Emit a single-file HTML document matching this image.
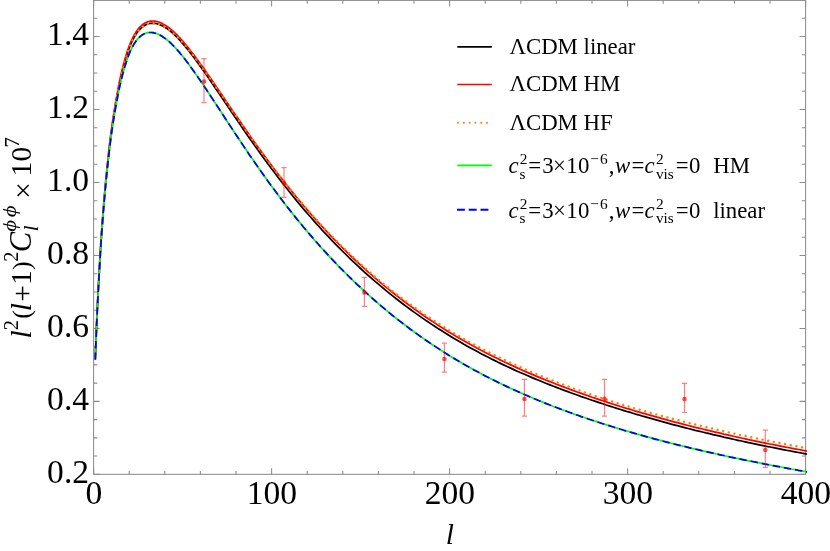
<!DOCTYPE html>
<html><head><meta charset="utf-8"><title>plot</title>
<style>
html,body{margin:0;padding:0;background:#fff;}
svg{display:block;will-change:transform;}
text{font-family:"Liberation Serif",serif;fill:#000;}
.it{font-style:italic;}
</style></head><body>
<svg width="830" height="551" viewBox="0 0 830 551">
<rect x="0" y="0" width="830" height="551" fill="#fff"/>
<defs><clipPath id="cp"><rect x="92.6" y="0" width="714.4" height="474.83"/></clipPath></defs>
<g stroke="#8c8c8c" stroke-width="1.05" fill="none">
<rect x="93.6" y="0.4" width="712.0" height="473.93"/>
<path d="M93.60,474.33v-6.0M93.60,0.4v6.0M129.20,474.33v-3.3M129.20,0.4v3.3M164.80,474.33v-3.3M164.80,0.4v3.3M200.40,474.33v-3.3M200.40,0.4v3.3M236.00,474.33v-3.3M236.00,0.4v3.3M271.60,474.33v-6.0M271.60,0.4v6.0M307.20,474.33v-3.3M307.20,0.4v3.3M342.80,474.33v-3.3M342.80,0.4v3.3M378.40,474.33v-3.3M378.40,0.4v3.3M414.00,474.33v-3.3M414.00,0.4v3.3M449.60,474.33v-6.0M449.60,0.4v6.0M485.20,474.33v-3.3M485.20,0.4v3.3M520.80,474.33v-3.3M520.80,0.4v3.3M556.40,474.33v-3.3M556.40,0.4v3.3M592.00,474.33v-3.3M592.00,0.4v3.3M627.60,474.33v-6.0M627.60,0.4v6.0M663.20,474.33v-3.3M663.20,0.4v3.3M698.80,474.33v-3.3M698.80,0.4v3.3M734.40,474.33v-3.3M734.40,0.4v3.3M770.00,474.33v-3.3M770.00,0.4v3.3M805.60,474.33v-6.0M805.60,0.4v6.0M93.6,474.33h6.0M805.6,474.33h-6.0M93.6,456.09h3.7M805.6,456.09h-3.7M93.6,437.85h3.7M805.6,437.85h-3.7M93.6,419.61h3.7M805.6,419.61h-3.7M93.6,401.37h6.0M805.6,401.37h-6.0M93.6,383.13h3.7M805.6,383.13h-3.7M93.6,364.89h3.7M805.6,364.89h-3.7M93.6,346.65h3.7M805.6,346.65h-3.7M93.6,328.41h6.0M805.6,328.41h-6.0M93.6,310.17h3.7M805.6,310.17h-3.7M93.6,291.93h3.7M805.6,291.93h-3.7M93.6,273.69h3.7M805.6,273.69h-3.7M93.6,255.45h6.0M805.6,255.45h-6.0M93.6,237.21h3.7M805.6,237.21h-3.7M93.6,218.97h3.7M805.6,218.97h-3.7M93.6,200.73h3.7M805.6,200.73h-3.7M93.6,182.49h6.0M805.6,182.49h-6.0M93.6,164.25h3.7M805.6,164.25h-3.7M93.6,146.01h3.7M805.6,146.01h-3.7M93.6,127.77h3.7M805.6,127.77h-3.7M93.6,109.53h6.0M805.6,109.53h-6.0M93.6,91.29h3.7M805.6,91.29h-3.7M93.6,73.05h3.7M805.6,73.05h-3.7M93.6,54.81h3.7M805.6,54.81h-3.7M93.6,36.57h6.0M805.6,36.57h-6.0M93.6,18.33h3.7M805.6,18.33h-3.7"/>
</g>
<g clip-path="url(#cp)" fill="none" stroke-linejoin="round">
<path d="M95.3,358.8 L96.2,335.2 L97.1,314.1 L98.0,295.2 L98.9,278.2 L99.8,262.6 L100.6,248.3 L101.5,235.0 L102.4,222.6 L103.3,210.9 L104.2,200.0 L105.1,189.7 L106.0,180.0 L106.9,171.0 L107.8,162.4 L108.7,154.3 L109.5,146.7 L110.4,139.5 L111.3,132.7 L112.2,126.2 L113.1,120.0 L114.0,114.2 L114.9,108.6 L115.8,103.4 L116.7,98.3 L117.6,93.5 L118.4,88.9 L119.3,84.5 L120.2,80.3 L121.1,76.3 L122.0,72.5 L122.9,68.9 L123.8,65.5 L124.7,62.2 L125.6,59.1 L126.5,56.2 L127.3,53.4 L128.2,50.8 L129.1,48.4 L130.0,46.1 L130.9,43.9 L131.8,41.9 L132.7,40.1 L133.6,38.3 L134.5,36.7 L135.4,35.2 L136.2,33.8 L137.1,32.5 L138.0,31.4 L138.9,30.3 L139.8,29.3 L140.7,28.4 L141.6,27.6 L142.5,26.9 L143.4,26.2 L144.3,25.6 L145.1,25.1 L146.0,24.7 L146.9,24.3 L147.8,24.0 L148.7,23.7 L149.6,23.5 L150.5,23.4 L151.4,23.3 L152.3,23.2 L153.2,23.3 L154.0,23.3 L154.9,23.4 L155.8,23.5 L156.7,23.7 L157.6,24.0 L158.5,24.2 L159.4,24.5 L160.3,24.9 L161.2,25.3 L162.1,25.7 L162.9,26.1 L163.8,26.6 L164.7,27.2 L165.6,27.7 L166.5,28.3 L167.4,28.9 L168.3,29.6 L169.2,30.2 L170.1,30.9 L171.0,31.7 L171.8,32.4 L172.7,33.2 L173.6,34.0 L174.5,34.9 L175.4,35.7 L176.3,36.6 L177.2,37.5 L178.1,38.4 L179.0,39.4 L179.9,40.3 L180.7,41.3 L181.6,42.3 L182.5,43.3 L183.4,44.4 L184.3,45.4 L185.2,46.5 L186.1,47.6 L187.0,48.7 L187.9,49.8 L188.8,50.9 L189.6,52.0 L190.5,53.2 L191.4,54.3 L192.3,55.5 L193.2,56.7 L194.1,57.8 L195.0,59.0 L195.9,60.2 L196.8,61.4 L197.7,62.7 L198.5,63.9 L199.4,65.1 L200.3,66.4 L200.4,66.5 L204.0,71.5 L207.5,76.6 L211.1,81.8 L214.6,87.0 L218.2,92.2 L221.8,97.5 L225.3,102.8 L228.9,108.1 L232.4,113.4 L236.0,118.6 L239.6,123.8 L243.1,129.0 L246.7,134.2 L250.2,139.3 L253.8,144.3 L257.4,149.3 L260.9,154.3 L264.5,159.2 L268.0,164.0 L271.6,168.8 L275.2,173.5 L278.7,178.2 L282.3,182.8 L285.8,187.3 L289.4,191.8 L293.0,196.2 L296.5,200.6 L300.1,204.9 L303.6,209.1 L307.2,213.2 L310.8,217.3 L314.3,221.4 L317.9,225.3 L321.4,229.3 L325.0,233.1 L328.6,236.9 L332.1,240.6 L335.7,244.3 L339.2,247.9 L342.8,251.5 L346.4,255.0 L349.9,258.5 L353.5,261.9 L357.0,265.2 L360.6,268.5 L364.2,271.8 L367.7,275.0 L371.3,278.1 L374.8,281.2 L378.4,284.2 L382.0,287.2 L385.5,290.2 L389.1,293.1 L392.6,295.9 L396.2,298.7 L399.8,301.5 L403.3,304.2 L406.9,306.9 L410.4,309.5 L414.0,312.1 L417.6,314.6 L421.1,317.1 L424.7,319.6 L428.2,322.0 L431.8,324.4 L435.4,326.7 L438.9,329.1 L442.5,331.3 L446.0,333.5 L449.6,335.7 L453.2,337.9 L456.7,340.0 L460.3,342.1 L463.8,344.2 L467.4,346.2 L471.0,348.2 L474.5,350.1 L478.1,352.0 L481.6,353.9 L485.2,355.8 L488.8,357.6 L492.3,359.4 L495.9,361.1 L499.4,362.9 L503.0,364.6 L506.6,366.3 L510.1,367.9 L513.7,369.6 L517.2,371.2 L520.8,372.8 L524.4,374.3 L527.9,375.8 L531.5,377.4 L535.0,378.9 L538.6,380.3 L542.2,381.8 L545.7,383.2 L549.3,384.6 L552.8,386.0 L556.4,387.4 L560.0,388.8 L563.5,390.1 L567.1,391.4 L570.6,392.7 L574.2,394.0 L577.8,395.3 L581.3,396.6 L584.9,397.8 L588.4,399.0 L592.0,400.2 L595.6,401.4 L599.1,402.6 L602.7,403.8 L606.2,405.0 L609.8,406.1 L613.4,407.2 L616.9,408.4 L620.5,409.5 L624.0,410.6 L627.6,411.7 L631.2,412.7 L634.7,413.8 L638.3,414.8 L641.8,415.9 L645.4,416.9 L649.0,417.9 L652.5,418.9 L656.1,419.9 L659.6,420.9 L663.2,421.9 L666.8,422.9 L670.3,423.8 L673.9,424.8 L677.4,425.7 L681.0,426.6 L684.6,427.6 L688.1,428.5 L691.7,429.4 L695.2,430.3 L698.8,431.1 L702.4,432.0 L705.9,432.9 L709.5,433.7 L713.0,434.6 L716.6,435.4 L720.2,436.2 L723.7,437.1 L727.3,437.9 L730.8,438.7 L734.4,439.5 L738.0,440.3 L741.5,441.0 L745.1,441.8 L748.6,442.6 L752.2,443.3 L755.8,444.1 L759.3,444.8 L762.9,445.6 L766.4,446.3 L770.0,447.0 L773.6,447.7 L777.1,448.4 L780.7,449.1 L784.2,449.8 L787.8,450.5 L791.4,451.2 L794.9,451.8 L798.5,452.5 L802.0,453.2 L805.6,453.8 L807.0,454.1" stroke="#000" stroke-width="1.72"/>
<path d="M95.3,356.7 L96.2,333.1 L97.1,312.0 L98.0,293.1 L98.9,276.1 L99.8,260.5 L100.6,246.2 L101.5,232.9 L102.4,220.5 L103.3,208.8 L104.2,197.9 L105.1,187.6 L106.0,177.9 L106.9,168.8 L107.8,160.3 L108.7,152.2 L109.5,144.6 L110.4,137.4 L111.3,130.5 L112.2,124.1 L113.1,117.9 L114.0,112.1 L114.9,106.5 L115.8,101.2 L116.7,96.2 L117.6,91.4 L118.4,86.8 L119.3,82.4 L120.2,78.2 L121.1,74.2 L122.0,70.4 L122.9,66.8 L123.8,63.3 L124.7,60.1 L125.6,57.0 L126.5,54.0 L127.3,51.3 L128.2,48.7 L129.1,46.2 L130.0,43.9 L130.9,41.8 L131.8,39.8 L132.7,37.9 L133.6,36.2 L134.5,34.5 L135.4,33.1 L136.2,31.7 L137.1,30.4 L138.0,29.2 L138.9,28.1 L139.8,27.1 L140.7,26.3 L141.6,25.4 L142.5,24.7 L143.4,24.0 L144.3,23.5 L145.1,23.0 L146.0,22.5 L146.9,22.1 L147.8,21.8 L148.7,21.5 L149.6,21.3 L150.5,21.2 L151.4,21.1 L152.3,21.0 L153.2,21.0 L154.0,21.1 L154.9,21.2 L155.8,21.3 L156.7,21.5 L157.6,21.7 L158.5,22.0 L159.4,22.3 L160.3,22.6 L161.2,23.0 L162.1,23.4 L162.9,23.9 L163.8,24.4 L164.7,24.9 L165.6,25.4 L166.5,26.0 L167.4,26.6 L168.3,27.3 L169.2,27.9 L170.1,28.6 L171.0,29.4 L171.8,30.1 L172.7,30.9 L173.6,31.7 L174.5,32.5 L175.4,33.4 L176.3,34.2 L177.2,35.1 L178.1,36.0 L179.0,37.0 L179.9,37.9 L180.7,38.9 L181.6,39.9 L182.5,40.9 L183.4,41.9 L184.3,43.0 L185.2,44.0 L186.1,45.1 L187.0,46.2 L187.9,47.3 L188.8,48.4 L189.6,49.5 L190.5,50.7 L191.4,51.8 L192.3,53.0 L193.2,54.1 L194.1,55.3 L195.0,56.5 L195.9,57.7 L196.8,58.9 L197.7,60.1 L198.5,61.3 L199.4,62.5 L200.3,63.8 L200.4,63.9 L204.0,68.8 L207.5,73.9 L211.1,79.0 L214.6,84.2 L218.2,89.4 L221.8,94.7 L225.3,99.9 L228.9,105.2 L232.4,110.4 L236.0,115.6 L239.6,120.8 L243.1,126.0 L246.7,131.1 L250.2,136.2 L253.8,141.2 L257.4,146.2 L260.9,151.1 L264.5,156.0 L268.0,160.8 L271.6,165.6 L275.2,170.3 L278.7,174.9 L282.3,179.5 L285.8,184.1 L289.4,188.5 L293.0,192.9 L296.5,197.2 L300.1,201.5 L303.6,205.7 L307.2,209.9 L310.8,214.0 L314.3,218.0 L317.9,222.0 L321.4,225.9 L325.0,229.7 L328.6,233.5 L332.1,237.3 L335.7,240.9 L339.2,244.5 L342.8,248.1 L346.4,251.6 L349.9,255.1 L353.5,258.5 L357.0,261.8 L360.6,265.1 L364.2,268.4 L367.7,271.6 L371.3,274.7 L374.8,277.8 L378.4,280.8 L382.0,283.8 L385.5,286.8 L389.1,289.7 L392.6,292.5 L396.2,295.3 L399.8,298.1 L403.3,300.8 L406.9,303.5 L410.4,306.1 L414.0,308.7 L417.6,311.3 L421.1,313.8 L424.7,316.2 L428.2,318.7 L431.8,321.0 L435.4,323.4 L438.9,325.7 L442.5,328.0 L446.0,330.2 L449.6,332.4 L453.2,334.6 L456.7,336.7 L460.3,338.8 L463.8,340.8 L467.4,342.8 L471.0,344.8 L474.5,346.8 L478.1,348.7 L481.6,350.6 L485.2,352.4 L488.8,354.3 L492.3,356.1 L495.9,357.8 L499.4,359.6 L503.0,361.3 L506.6,363.0 L510.1,364.6 L513.7,366.3 L517.2,367.9 L520.8,369.5 L524.4,371.1 L527.9,372.6 L531.5,374.1 L535.0,375.6 L538.6,377.1 L542.2,378.6 L545.7,380.0 L549.3,381.4 L552.8,382.8 L556.4,384.2 L560.0,385.6 L563.5,386.9 L567.1,388.3 L570.6,389.6 L574.2,390.9 L577.8,392.2 L581.3,393.4 L584.9,394.7 L588.4,395.9 L592.0,397.2 L595.6,398.4 L599.1,399.6 L602.7,400.8 L606.2,401.9 L609.8,403.1 L613.4,404.2 L616.9,405.4 L620.5,406.5 L624.0,407.6 L627.6,408.7 L631.2,409.7 L634.7,410.8 L638.3,411.8 L641.8,412.9 L645.4,413.9 L649.0,414.9 L652.5,415.9 L656.1,416.9 L659.6,417.9 L663.2,418.9 L666.8,419.9 L670.3,420.8 L673.9,421.8 L677.4,422.7 L681.0,423.6 L684.6,424.6 L688.1,425.5 L691.7,426.4 L695.2,427.3 L698.8,428.1 L702.4,429.0 L705.9,429.9 L709.5,430.7 L713.0,431.6 L716.6,432.4 L720.2,433.2 L723.7,434.1 L727.3,434.9 L730.8,435.7 L734.4,436.5 L738.0,437.3 L741.5,438.0 L745.1,438.8 L748.6,439.6 L752.2,440.3 L755.8,441.1 L759.3,441.8 L762.9,442.6 L766.4,443.3 L770.0,444.0 L773.6,444.7 L777.1,445.4 L780.7,446.1 L784.2,446.8 L787.8,447.5 L791.4,448.2 L794.9,448.8 L798.5,449.5 L802.0,450.2 L805.6,450.8 L807.0,451.1" stroke="#ff0000" stroke-width="1.72"/>
<path d="M95.3,358.9 L96.2,335.3 L97.1,314.2 L98.0,295.3 L98.9,278.3 L99.8,262.7 L100.6,248.4 L101.5,235.1 L102.4,222.7 L103.3,211.0 L104.2,200.1 L105.1,189.8 L106.0,180.1 L106.9,171.0 L107.8,162.5 L108.7,154.4 L109.5,146.8 L110.4,139.6 L111.3,132.7 L112.2,126.3 L113.1,120.1 L114.0,114.3 L114.9,108.7 L115.8,103.4 L116.7,98.4 L117.6,93.6 L118.4,89.0 L119.3,84.6 L120.2,80.4 L121.1,76.4 L122.0,72.6 L122.9,69.0 L123.8,65.5 L124.7,62.3 L125.6,59.2 L126.5,56.2 L127.3,53.5 L128.2,50.9 L129.1,48.4 L130.0,46.1 L130.9,44.0 L131.8,42.0 L132.7,40.1 L133.6,38.4 L134.5,36.7 L135.4,35.3 L136.2,33.9 L137.1,32.6 L138.0,31.4 L138.9,30.3 L139.8,29.3 L140.7,28.5 L141.6,27.6 L142.5,26.9 L143.4,26.2 L144.3,25.7 L145.1,25.2 L146.0,24.7 L146.9,24.3 L147.8,24.0 L148.7,23.7 L149.6,23.5 L150.5,23.4 L151.4,23.3 L152.3,23.2 L153.2,23.2 L154.0,23.3 L154.9,23.4 L155.8,23.5 L156.7,23.7 L157.6,23.9 L158.5,24.2 L159.4,24.5 L160.3,24.8 L161.2,25.2 L162.1,25.6 L162.9,26.0 L163.8,26.5 L164.7,27.0 L165.6,27.5 L166.5,28.1 L167.4,28.7 L168.3,29.3 L169.2,29.9 L170.1,30.6 L171.0,31.3 L171.8,32.0 L172.7,32.8 L173.6,33.6 L174.5,34.4 L175.4,35.2 L176.3,36.0 L177.2,36.9 L178.1,37.8 L179.0,38.7 L179.9,39.6 L180.7,40.6 L181.6,41.6 L182.5,42.5 L183.4,43.5 L184.3,44.6 L185.2,45.6 L186.1,46.6 L187.0,47.7 L187.9,48.8 L188.8,49.9 L189.6,51.0 L190.5,52.1 L191.4,53.2 L192.3,54.3 L193.2,55.5 L194.1,56.6 L195.0,57.8 L195.9,59.0 L196.8,60.1 L197.7,61.3 L198.5,62.5 L199.4,63.7 L200.3,65.0 L200.4,65.1 L204.0,70.0 L207.5,75.0 L211.1,80.1 L214.6,85.2 L218.2,90.3 L221.8,95.5 L225.3,100.7 L228.9,105.9 L232.4,111.1 L236.0,116.2 L239.6,121.4 L243.1,126.5 L246.7,131.5 L250.2,136.5 L253.8,141.5 L257.4,146.5 L260.9,151.3 L264.5,156.2 L268.0,160.9 L271.6,165.7 L275.2,170.3 L278.7,174.9 L282.3,179.4 L285.8,183.9 L289.4,188.3 L293.0,192.6 L296.5,196.9 L300.1,201.1 L303.6,205.3 L307.2,209.4 L310.8,213.4 L314.3,217.4 L317.9,221.3 L321.4,225.2 L325.0,229.0 L328.6,232.7 L332.1,236.4 L335.7,240.1 L339.2,243.6 L342.8,247.2 L346.4,250.6 L349.9,254.1 L353.5,257.4 L357.0,260.7 L360.6,264.0 L364.2,267.2 L367.7,270.4 L371.3,273.5 L374.8,276.6 L378.4,279.6 L382.0,282.5 L385.5,285.4 L389.1,288.3 L392.6,291.1 L396.2,293.9 L399.8,296.6 L403.3,299.3 L406.9,301.9 L410.4,304.5 L414.0,307.0 L417.6,309.5 L421.1,312.0 L424.7,314.4 L428.2,316.8 L431.8,319.1 L435.4,321.5 L438.9,323.8 L442.5,326.0 L446.0,328.2 L449.6,330.4 L453.2,332.6 L456.7,334.7 L460.3,336.8 L463.8,338.8 L467.4,340.8 L471.0,342.8 L474.5,344.7 L478.1,346.6 L481.6,348.5 L485.2,350.4 L488.8,352.2 L492.3,354.0 L495.9,355.8 L499.4,357.5 L503.0,359.2 L506.6,360.9 L510.1,362.5 L513.7,364.2 L517.2,365.8 L520.8,367.4 L524.4,368.9 L527.9,370.5 L531.5,372.0 L535.0,373.5 L538.6,374.9 L542.2,376.4 L545.7,377.8 L549.3,379.2 L552.8,380.6 L556.4,382.0 L560.0,383.4 L563.5,384.7 L567.1,386.0 L570.6,387.3 L574.2,388.6 L577.8,389.9 L581.3,391.1 L584.9,392.4 L588.4,393.6 L592.0,394.8 L595.6,396.0 L599.1,397.2 L602.7,398.4 L606.2,399.5 L609.8,400.7 L613.4,401.8 L616.9,402.9 L620.5,404.0 L624.0,405.1 L627.6,406.2 L631.2,407.2 L634.7,408.3 L638.3,409.3 L641.8,410.3 L645.4,411.3 L649.0,412.3 L652.5,413.3 L656.1,414.3 L659.6,415.3 L663.2,416.2 L666.8,417.2 L670.3,418.1 L673.9,419.1 L677.4,420.0 L681.0,420.9 L684.6,421.8 L688.1,422.7 L691.7,423.6 L695.2,424.5 L698.8,425.3 L702.4,426.2 L705.9,427.1 L709.5,427.9 L713.0,428.7 L716.6,429.6 L720.2,430.4 L723.7,431.2 L727.3,432.0 L730.8,432.8 L734.4,433.6 L738.0,434.4 L741.5,435.2 L745.1,435.9 L748.6,436.7 L752.2,437.5 L755.8,438.2 L759.3,438.9 L762.9,439.7 L766.4,440.4 L770.0,441.1 L773.6,441.8 L777.1,442.5 L780.7,443.2 L784.2,443.9 L787.8,444.6 L791.4,445.3 L794.9,446.0 L798.5,446.6 L802.0,447.3 L805.6,447.9 L807.0,448.2" stroke="#ff8000" stroke-width="2.4" stroke-dasharray="0.01 5.74" stroke-linecap="round"/>
<path d="M95.3,358.9 L96.2,335.4 L97.1,314.4 L98.0,295.6 L98.9,278.7 L99.8,263.2 L100.6,249.0 L101.5,235.8 L102.4,223.6 L103.3,212.0 L104.2,201.2 L105.1,191.1 L106.0,181.6 L106.9,172.6 L107.8,164.2 L108.7,156.3 L109.5,148.8 L110.4,141.8 L111.3,135.1 L112.2,128.8 L113.1,122.8 L114.0,117.1 L114.9,111.7 L115.8,106.6 L116.7,101.7 L117.6,97.1 L118.4,92.7 L119.3,88.4 L120.2,84.4 L121.1,80.6 L122.0,76.9 L122.9,73.5 L123.8,70.2 L124.7,67.1 L125.6,64.2 L126.5,61.4 L127.3,58.8 L128.2,56.4 L129.1,54.1 L130.0,51.9 L130.9,49.9 L131.8,48.1 L132.7,46.4 L133.6,44.8 L134.5,43.3 L135.4,42.0 L136.2,40.7 L137.1,39.6 L138.0,38.6 L138.9,37.6 L139.8,36.8 L140.7,36.1 L141.6,35.4 L142.5,34.8 L143.4,34.3 L144.3,33.8 L145.1,33.5 L146.0,33.1 L146.9,32.9 L147.8,32.7 L148.7,32.6 L149.6,32.5 L150.5,32.5 L151.4,32.5 L152.3,32.6 L153.2,32.7 L154.0,32.9 L154.9,33.1 L155.8,33.4 L156.7,33.7 L157.6,34.0 L158.5,34.4 L159.4,34.8 L160.3,35.3 L161.2,35.8 L162.1,36.3 L162.9,36.9 L163.8,37.5 L164.7,38.1 L165.6,38.8 L166.5,39.5 L167.4,40.2 L168.3,40.9 L169.2,41.7 L170.1,42.5 L171.0,43.3 L171.8,44.2 L172.7,45.1 L173.6,46.0 L174.5,46.9 L175.4,47.8 L176.3,48.8 L177.2,49.8 L178.1,50.8 L179.0,51.8 L179.9,52.9 L180.7,54.0 L181.6,55.0 L182.5,56.1 L183.4,57.3 L184.3,58.4 L185.2,59.5 L186.1,60.7 L187.0,61.9 L187.9,63.0 L188.8,64.2 L189.6,65.4 L190.5,66.7 L191.4,67.9 L192.3,69.1 L193.2,70.4 L194.1,71.6 L195.0,72.9 L195.9,74.2 L196.8,75.4 L197.7,76.7 L198.5,78.0 L199.4,79.3 L200.3,80.6 L200.4,80.7 L204.0,86.0 L207.5,91.3 L211.1,96.7 L214.6,102.1 L218.2,107.5 L221.8,113.0 L225.3,118.5 L228.9,123.9 L232.4,129.3 L236.0,134.8 L239.6,140.1 L243.1,145.4 L246.7,150.7 L250.2,156.0 L253.8,161.1 L257.4,166.3 L260.9,171.3 L264.5,176.3 L268.0,181.3 L271.6,186.2 L275.2,191.0 L278.7,195.7 L282.3,200.4 L285.8,205.1 L289.4,209.6 L293.0,214.1 L296.5,218.6 L300.1,222.9 L303.6,227.2 L307.2,231.5 L310.8,235.6 L314.3,239.7 L317.9,243.8 L321.4,247.8 L325.0,251.7 L328.6,255.6 L332.1,259.4 L335.7,263.1 L339.2,266.8 L342.8,270.4 L346.4,274.0 L349.9,277.5 L353.5,280.9 L357.0,284.3 L360.6,287.7 L364.2,291.0 L367.7,294.2 L371.3,297.4 L374.8,300.5 L378.4,303.6 L382.0,306.7 L385.5,309.6 L389.1,312.6 L392.6,315.5 L396.2,318.3 L399.8,321.1 L403.3,323.8 L406.9,326.5 L410.4,329.2 L414.0,331.8 L417.6,334.4 L421.1,336.9 L424.7,339.4 L428.2,341.8 L431.8,344.3 L435.4,346.6 L438.9,348.9 L442.5,351.2 L446.0,353.5 L449.6,355.7 L453.2,357.9 L456.7,360.0 L460.3,362.1 L463.8,364.2 L467.4,366.2 L471.0,368.2 L474.5,370.2 L478.1,372.1 L481.6,374.0 L485.2,375.9 L488.8,377.7 L492.3,379.5 L495.9,381.3 L499.4,383.0 L503.0,384.7 L506.6,386.4 L510.1,388.1 L513.7,389.7 L517.2,391.3 L520.8,392.9 L524.4,394.5 L527.9,396.0 L531.5,397.5 L535.0,399.0 L538.6,400.5 L542.2,401.9 L545.7,403.4 L549.3,404.8 L552.8,406.2 L556.4,407.5 L560.0,408.9 L563.5,410.2 L567.1,411.5 L570.6,412.8 L574.2,414.1 L577.8,415.3 L581.3,416.6 L584.9,417.8 L588.4,419.0 L592.0,420.2 L595.6,421.4 L599.1,422.5 L602.7,423.7 L606.2,424.8 L609.8,425.9 L613.4,427.0 L616.9,428.1 L620.5,429.2 L624.0,430.3 L627.6,431.3 L631.2,432.4 L634.7,433.4 L638.3,434.4 L641.8,435.4 L645.4,436.4 L649.0,437.4 L652.5,438.3 L656.1,439.3 L659.6,440.2 L663.2,441.2 L666.8,442.1 L670.3,443.0 L673.9,443.9 L677.4,444.8 L681.0,445.7 L684.6,446.5 L688.1,447.4 L691.7,448.3 L695.2,449.1 L698.8,449.9 L702.4,450.8 L705.9,451.6 L709.5,452.4 L713.0,453.2 L716.6,454.0 L720.2,454.8 L723.7,455.5 L727.3,456.3 L730.8,457.1 L734.4,457.8 L738.0,458.6 L741.5,459.3 L745.1,460.1 L748.6,460.8 L752.2,461.5 L755.8,462.2 L759.3,462.9 L762.9,463.6 L766.4,464.3 L770.0,465.0 L773.6,465.7 L777.1,466.3 L780.7,467.0 L784.2,467.7 L787.8,468.3 L791.4,469.0 L794.9,469.6 L798.5,470.3 L802.0,470.9 L805.6,471.5 L807.0,471.8" stroke="#00ff00" stroke-width="1.72"/>
<path d="M95.3,358.9 L96.2,335.4 L97.1,314.4 L98.0,295.6 L98.9,278.7 L99.8,263.2 L100.6,249.0 L101.5,235.8 L102.4,223.6 L103.3,212.0 L104.2,201.2 L105.1,191.1 L106.0,181.6 L106.9,172.6 L107.8,164.2 L108.7,156.3 L109.5,148.8 L110.4,141.8 L111.3,135.1 L112.2,128.8 L113.1,122.8 L114.0,117.1 L114.9,111.7 L115.8,106.6 L116.7,101.7 L117.6,97.1 L118.4,92.7 L119.3,88.4 L120.2,84.4 L121.1,80.6 L122.0,76.9 L122.9,73.5 L123.8,70.2 L124.7,67.1 L125.6,64.2 L126.5,61.4 L127.3,58.8 L128.2,56.4 L129.1,54.1 L130.0,51.9 L130.9,49.9 L131.8,48.1 L132.7,46.4 L133.6,44.8 L134.5,43.3 L135.4,42.0 L136.2,40.7 L137.1,39.6 L138.0,38.6 L138.9,37.6 L139.8,36.8 L140.7,36.1 L141.6,35.4 L142.5,34.8 L143.4,34.3 L144.3,33.8 L145.1,33.5 L146.0,33.1 L146.9,32.9 L147.8,32.7 L148.7,32.6 L149.6,32.5 L150.5,32.5 L151.4,32.5 L152.3,32.6 L153.2,32.7 L154.0,32.9 L154.9,33.1 L155.8,33.4 L156.7,33.7 L157.6,34.0 L158.5,34.4 L159.4,34.8 L160.3,35.3 L161.2,35.8 L162.1,36.3 L162.9,36.9 L163.8,37.5 L164.7,38.1 L165.6,38.8 L166.5,39.5 L167.4,40.2 L168.3,40.9 L169.2,41.7 L170.1,42.5 L171.0,43.3 L171.8,44.2 L172.7,45.1 L173.6,46.0 L174.5,46.9 L175.4,47.8 L176.3,48.8 L177.2,49.8 L178.1,50.8 L179.0,51.8 L179.9,52.9 L180.7,54.0 L181.6,55.0 L182.5,56.1 L183.4,57.3 L184.3,58.4 L185.2,59.5 L186.1,60.7 L187.0,61.9 L187.9,63.0 L188.8,64.2 L189.6,65.4 L190.5,66.7 L191.4,67.9 L192.3,69.1 L193.2,70.4 L194.1,71.6 L195.0,72.9 L195.9,74.2 L196.8,75.4 L197.7,76.7 L198.5,78.0 L199.4,79.3 L200.3,80.6 L200.4,80.7 L204.0,86.0 L207.5,91.3 L211.1,96.7 L214.6,102.1 L218.2,107.5 L221.8,113.0 L225.3,118.5 L228.9,123.9 L232.4,129.3 L236.0,134.8 L239.6,140.1 L243.1,145.4 L246.7,150.7 L250.2,156.0 L253.8,161.1 L257.4,166.3 L260.9,171.3 L264.5,176.3 L268.0,181.3 L271.6,186.2 L275.2,191.0 L278.7,195.7 L282.3,200.4 L285.8,205.1 L289.4,209.6 L293.0,214.1 L296.5,218.6 L300.1,222.9 L303.6,227.2 L307.2,231.5 L310.8,235.6 L314.3,239.7 L317.9,243.8 L321.4,247.8 L325.0,251.7 L328.6,255.6 L332.1,259.4 L335.7,263.1 L339.2,266.8 L342.8,270.4 L346.4,274.0 L349.9,277.5 L353.5,280.9 L357.0,284.3 L360.6,287.7 L364.2,291.0 L367.7,294.2 L371.3,297.4 L374.8,300.5 L378.4,303.6 L382.0,306.7 L385.5,309.6 L389.1,312.6 L392.6,315.5 L396.2,318.3 L399.8,321.1 L403.3,323.8 L406.9,326.5 L410.4,329.2 L414.0,331.8 L417.6,334.4 L421.1,336.9 L424.7,339.4 L428.2,341.8 L431.8,344.3 L435.4,346.6 L438.9,348.9 L442.5,351.2 L446.0,353.5 L449.6,355.7 L453.2,357.9 L456.7,360.0 L460.3,362.1 L463.8,364.2 L467.4,366.2 L471.0,368.2 L474.5,370.2 L478.1,372.1 L481.6,374.0 L485.2,375.9 L488.8,377.7 L492.3,379.5 L495.9,381.3 L499.4,383.0 L503.0,384.7 L506.6,386.4 L510.1,388.1 L513.7,389.7 L517.2,391.3 L520.8,392.9 L524.4,394.5 L527.9,396.0 L531.5,397.5 L535.0,399.0 L538.6,400.5 L542.2,401.9 L545.7,403.4 L549.3,404.8 L552.8,406.2 L556.4,407.5 L560.0,408.9 L563.5,410.2 L567.1,411.5 L570.6,412.8 L574.2,414.1 L577.8,415.3 L581.3,416.6 L584.9,417.8 L588.4,419.0 L592.0,420.2 L595.6,421.4 L599.1,422.5 L602.7,423.7 L606.2,424.8 L609.8,425.9 L613.4,427.0 L616.9,428.1 L620.5,429.2 L624.0,430.3 L627.6,431.3 L631.2,432.4 L634.7,433.4 L638.3,434.4 L641.8,435.4 L645.4,436.4 L649.0,437.4 L652.5,438.3 L656.1,439.3 L659.6,440.2 L663.2,441.2 L666.8,442.1 L670.3,443.0 L673.9,443.9 L677.4,444.8 L681.0,445.7 L684.6,446.5 L688.1,447.4 L691.7,448.3 L695.2,449.1 L698.8,449.9 L702.4,450.8 L705.9,451.6 L709.5,452.4 L713.0,453.2 L716.6,454.0 L720.2,454.8 L723.7,455.5 L727.3,456.3 L730.8,457.1 L734.4,457.8 L738.0,458.6 L741.5,459.3 L745.1,460.1 L748.6,460.8 L752.2,461.5 L755.8,462.2 L759.3,462.9 L762.9,463.6 L766.4,464.3 L770.0,465.0 L773.6,465.7 L777.1,466.3 L780.7,467.0 L784.2,467.7 L787.8,468.3 L791.4,469.0 L794.9,469.6 L798.5,470.3 L802.0,470.9 L805.6,471.5 L807.0,471.8" stroke="#0000ff" stroke-width="1.72" stroke-dasharray="5.65 5.65" stroke-linecap="square"/>
</g>
<g stroke="#ff0000" stroke-width="1.2" fill="none" opacity="0.5">
<path d="M204.0,58.6V102.6M201.4,58.6H206.6M201.4,102.6H206.6"/>
<path d="M284.0,167.6V197.3M281.4,167.6H286.6M281.4,197.3H286.6"/>
<path d="M364.4,277.4V306.4M361.8,277.4H367.0M361.8,306.4H367.0"/>
<path d="M444.4,343.1V372.2M441.8,343.1H447.0M441.8,372.2H447.0"/>
<path d="M524.4,379.4V416.2M521.8,379.4H527.0M521.8,416.2H527.0"/>
<path d="M604.5,379.4V416.1M601.9,379.4H607.1M601.9,416.1H607.1"/>
<path d="M684.5,383.3V412.5M681.9,383.3H687.1M681.9,412.5H687.1"/>
<path d="M765.3,430.2V467.3M762.7,430.2H767.9M762.7,467.3H767.9"/>
</g>
<g fill="#ff0000" opacity="0.68">
<circle cx="204.0" cy="81.6" r="2.3"/>
<circle cx="284.0" cy="183.0" r="2.3"/>
<circle cx="364.4" cy="292.6" r="2.3"/>
<circle cx="444.4" cy="359.0" r="2.3"/>
<circle cx="524.4" cy="399.0" r="2.3"/>
<circle cx="604.5" cy="398.9" r="2.3"/>
<circle cx="684.5" cy="399.1" r="2.3"/>
<circle cx="765.3" cy="450.0" r="2.3"/>
</g>
<g font-size="33.6">
<text transform="translate(93.9,503.9) scale(1,1.015)" text-anchor="middle">0</text>
<text transform="translate(271.9,503.9) scale(1,1.015)" text-anchor="middle">100</text>
<text transform="translate(449.9,503.9) scale(1,1.015)" text-anchor="middle">200</text>
<text transform="translate(627.9,503.9) scale(1,1.015)" text-anchor="middle">300</text>
<text transform="translate(805.9,503.9) scale(1,1.015)" text-anchor="middle">400</text>
<text transform="translate(89.1,482.6) scale(1,1.015)" text-anchor="end">0.2</text>
<text transform="translate(89.1,409.7) scale(1,1.015)" text-anchor="end">0.4</text>
<text transform="translate(89.1,336.7) scale(1,1.015)" text-anchor="end">0.6</text>
<text transform="translate(89.1,263.7) scale(1,1.015)" text-anchor="end">0.8</text>
<text transform="translate(89.1,190.8) scale(1,1.015)" text-anchor="end">1.0</text>
<text transform="translate(89.1,117.8) scale(1,1.015)" text-anchor="end">1.2</text>
<text transform="translate(89.1,44.9) scale(1,1.015)" text-anchor="end">1.4</text>
</g>
<text class="it" x="449.8" y="544" font-size="29.5" text-anchor="middle">l</text>
<g transform="translate(31.1,338.1) rotate(-90)">
<text class="it" x="-0.51" y="0.00" font-size="29.5">l</text>
<text x="7.89" y="-12.90" font-size="20.5">2</text>
<text x="19.32" y="-1.10" font-size="26">(</text>
<text class="it" x="26.74" y="0.00" font-size="29.5">l</text>
<text x="36.27" y="1.10" font-size="29.5">+</text>
<text x="53.16" y="0.00" font-size="29.5">1</text>
<text x="68.07" y="-1.10" font-size="26">)</text>
<text x="76.34" y="-12.90" font-size="20.5">2</text>
<text class="it" x="85.79" y="0.00" font-size="30.5">C</text>
<text class="it" x="106.80" y="6.70" font-size="21">l</text>
<text class="it" transform="translate(106.30,-15.40) scale(1.18,1)" font-size="19.5">ϕ</text>
<text class="it" transform="translate(120.80,-15.40) scale(1.18,1)" font-size="19.5">ϕ</text>
<text x="139.37" y="2.00" font-size="29.5">×</text>
<text x="161.61" y="0.00" font-size="29.5">1</text>
<text x="176.57" y="0.00" font-size="29.5">0</text>
<text x="190.54" y="-12.10" font-size="20.5">7</text>
</g>
<path d="M457.3,46.8H491.8" stroke="#000" stroke-width="1.7"/>
<path d="M457.3,84.5H491.8" stroke="#ff0000" stroke-width="1.7"/>
<path d="M458,122.7H488" stroke="#ff8000" stroke-width="2.1" stroke-dasharray="0.01 5.8" stroke-linecap="round"/>
<path d="M457.3,165.4H491.8" stroke="#00ff00" stroke-width="1.7"/>
<path d="M458,209.7H490" stroke="#0000ff" stroke-width="2" stroke-dasharray="5.9 5.85" stroke-linecap="square"/>
<g font-size="22.8">
<text x="509.4" y="54.0">ΛCDM linear</text>
<text x="509.4" y="91.4">ΛCDM HM</text>
<text x="509.4" y="129.9">ΛCDM HF</text>
</g>
<text class="it" x="508.61" y="173.40" font-size="22.8">c</text>
<text x="519.76" y="164.40" font-size="15.3">2</text>
<text x="519.49" y="179.00" font-size="15.3">s</text>
<text x="528.31" y="173.40" font-size="22.8">=</text>
<text x="542.15" y="173.40" font-size="22.8">3</text>
<text x="553.06" y="173.40" font-size="22.8">×</text>
<text x="566.23" y="173.40" font-size="22.8">1</text>
<text x="578.00" y="173.40" font-size="22.8">0</text>
<text x="590.18" y="164.40" font-size="15.3">−</text>
<text x="600.07" y="164.40" font-size="15.3">6</text>
<text x="608.78" y="173.40" font-size="22.8">,</text>
<text class="it" x="615.06" y="173.40" font-size="22.8">w</text>
<text x="631.46" y="173.40" font-size="22.8">=</text>
<text class="it" x="644.41" y="173.40" font-size="22.8">c</text>
<text x="656.06" y="164.40" font-size="15.3">2</text>
<text x="655.9" y="179.00" font-size="15.3">vis</text>
<text x="675.66" y="173.40" font-size="22.8">=</text>
<text x="689.00" y="173.40" font-size="22.8">0</text>
<text x="713.2" y="173.40" font-size="22.8">HM</text>
<text class="it" x="508.61" y="217.50" font-size="22.8">c</text>
<text x="519.76" y="208.50" font-size="15.3">2</text>
<text x="519.49" y="223.10" font-size="15.3">s</text>
<text x="528.31" y="217.50" font-size="22.8">=</text>
<text x="542.15" y="217.50" font-size="22.8">3</text>
<text x="553.06" y="217.50" font-size="22.8">×</text>
<text x="566.23" y="217.50" font-size="22.8">1</text>
<text x="578.00" y="217.50" font-size="22.8">0</text>
<text x="590.18" y="208.50" font-size="15.3">−</text>
<text x="600.07" y="208.50" font-size="15.3">6</text>
<text x="608.78" y="217.50" font-size="22.8">,</text>
<text class="it" x="615.06" y="217.50" font-size="22.8">w</text>
<text x="631.46" y="217.50" font-size="22.8">=</text>
<text class="it" x="644.41" y="217.50" font-size="22.8">c</text>
<text x="656.06" y="208.50" font-size="15.3">2</text>
<text x="655.9" y="223.10" font-size="15.3">vis</text>
<text x="675.66" y="217.50" font-size="22.8">=</text>
<text x="689.00" y="217.50" font-size="22.8">0</text>
<text x="713.2" y="217.50" font-size="22.8">linear</text>
</svg></body></html>
